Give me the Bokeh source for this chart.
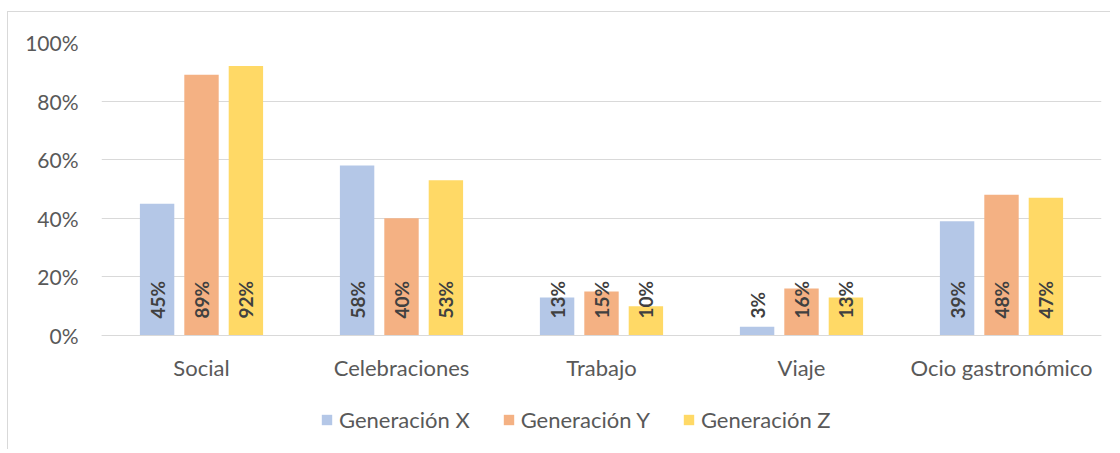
from math import pi
from bokeh.plotting import figure
from bokeh.models import (ColumnDataSource, FactorRange, FixedTicker, PrintfTickFormatter,
                          Range1d, Legend, LegendItem)
from bokeh.transform import dodge
from bokeh.core.properties import value
from bokeh.embed import file_html
from bokeh.resources import INLINE

categories = ["Social", "Celebraciones", "Trabajo", "Viaje", "Ocio gastronómico"]
series_names = ["Generación X", "Generación Y", "Generación Z"]
gen_x = [45, 58, 13, 3, 39]
gen_y = [89, 40, 15, 16, 48]
gen_z = [92, 53, 10, 13, 47]
y_ticks = [0, 20, 40, 60, 80, 100]

colors = ["#B4C7E7", "#F4B183", "#FFD966"]
offsets = [-0.222, 0.0, 0.222]
FONT = "Lato"
GRID = "#d9d9d9"
TXT = "#595959"

# the frame runs down to the bottom of the figure so that the legend sits inside it;
# 0% is 293 px above... the y range start is chosen so that 0..100 spans the same height
FIG_H = 438
TOP = 30
PLOT_PX = 293  # pixel height of 0..100
frame_h = FIG_H - TOP
y_start = -(frame_h - PLOT_PX) * 100.0 / PLOT_PX

p = figure(
    x_range=FactorRange(*categories, range_padding=0),
    y_range=Range1d(y_start, 100),
    width=1103, height=FIG_H,
    output_backend="svg", toolbar_location=None,
    min_border_left=93, min_border_right=10, min_border_top=TOP, min_border_bottom=0,
    styles={"border-left": "1px solid #d9d9d9", "border-top": "1px solid #d9d9d9",
            "margin-top": "11px", "margin-left": "7px"},
)
p.outline_line_color = None
p.background_fill_color = "white"
p.border_fill_color = "white"

items = []
for name, vals, col, off in zip(series_names, [gen_x, gen_y, gen_z], colors, offsets):
    src = ColumnDataSource(dict(cat=categories, val=vals, lbl=[f"{v}%" for v in vals]))
    r = p.vbar(x=dodge("cat", off, range=p.x_range), top="val", bottom=0, width=0.172,
               source=src, fill_color=col, line_color=None)
    items.append(LegendItem(label=name, renderers=[r]))
    p.text(x=dodge("cat", off, range=p.x_range), y=0, text="lbl", source=src,
           angle=pi / 2, text_align="left", text_baseline="middle", y_offset=-17,
           text_font=value(FONT), text_font_style="bold", text_font_size="19px",
           text_color="#404040")

# axes
p.yaxis.ticker = FixedTicker(ticks=y_ticks)
p.yaxis.formatter = PrintfTickFormatter(format="%d%%")
p.yaxis.axis_line_color = None
p.yaxis.major_tick_line_color = None
p.yaxis.minor_tick_line_color = None
p.yaxis.major_tick_in = 0
p.yaxis.major_tick_out = 0
p.yaxis.major_label_standoff = 23
p.yaxis.major_label_text_font = FONT
p.yaxis.major_label_text_font_size = "21px"
p.yaxis.major_label_text_color = TXT

p.xaxis.fixed_location = 0
p.xaxis.axis_line_color = GRID
p.xaxis.axis_line_width = 1
p.xaxis.major_tick_line_color = None
p.xaxis.minor_tick_line_color = None
p.xaxis.major_tick_in = 0
p.xaxis.major_tick_out = 0
p.xaxis.major_label_standoff = 18
p.xaxis.major_label_text_font = FONT
p.xaxis.major_label_text_font_size = "22px"
p.xaxis.major_label_text_color = TXT

p.xgrid.grid_line_color = None
p.ygrid.ticker = FixedTicker(ticks=y_ticks)
p.ygrid.grid_line_color = GRID
p.ygrid.grid_line_width = 1

lg = Legend(items=items, orientation="horizontal", location=(219, 17))
lg.border_line_alpha = 0
lg.background_fill_alpha = 0
lg.padding = 0
lg.margin = 0
lg.glyph_width = 13
lg.glyph_height = 13
lg.label_standoff = 6
lg.spacing = 32
lg.label_text_font = FONT
lg.label_text_font_size = "22px"
lg.label_text_color = TXT
p.add_layout(lg, "center")

open("out.html", "w").write(file_html(p, INLINE))
